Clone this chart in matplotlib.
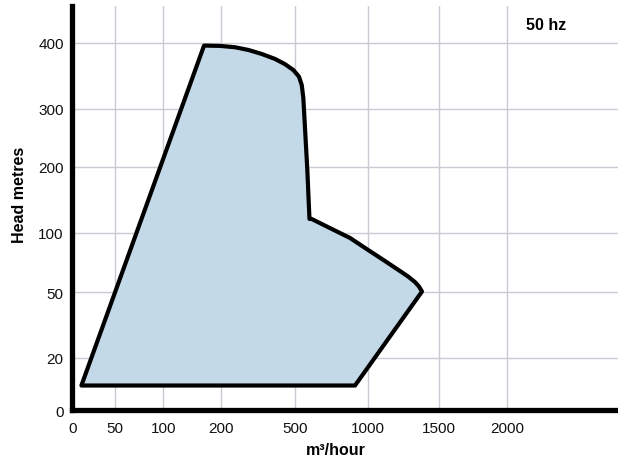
import numpy as np
import matplotlib
matplotlib.use("Agg")
import matplotlib.pyplot as plt

plt.rcParams['font.family'] = ['Liberation Sans', 'DejaVu Sans']

# axis ticks (the chart uses a stretched, non-linear scale)
x_ticks = [0, 50, 100, 200, 500, 1000, 1500, 2000]
y_ticks = [0, 20, 50, 100, 200, 300, 400]

# relative spacing of those ticks on the printed chart
x_spacing = [0, 42, 90.3, 147.7, 222.3, 295.3, 366.3, 434.3]
y_spacing = [0, 52.3, 117.7, 177.3, 243.3, 301, 367]

# operating envelope outline (flow m3/h, head m)
flow = [10, 171, 199, 257, 311, 365, 418, 458, 492, 525, 544, 555,
        582, 597, 612, 758, 875, 989, 1107, 1223, 1280, 1329, 1357, 1378,
        909, 10]
head = [9.4, 396, 395.5, 393.5, 389.4, 383.3, 375.8, 368, 359, 349, 336.4, 316.7,
        196.5, 121, 120.8, 104.8, 95.6, 86.3, 77.1, 67.9, 63.3, 58.6, 54.9, 50.7,
        9.4, 9.4]


def piecewise(src, dst):
    src = np.asarray(src, float)
    dst = np.asarray(dst, float)
    lo_slope = (dst[1] - dst[0]) / (src[1] - src[0])
    hi_slope = (dst[-1] - dst[-2]) / (src[-1] - src[-2])

    def f(v):
        v = np.asarray(v, float)
        flat = np.atleast_1d(v).astype(float)
        out = np.interp(flat, src, dst)
        lo = flat < src[0]
        hi = flat > src[-1]
        out[lo] = dst[0] + (flat[lo] - src[0]) * lo_slope
        out[hi] = dst[-1] + (flat[hi] - src[-1]) * hi_slope
        return out.reshape(v.shape)
    return f


fig = plt.figure(figsize=(6.18, 4.64), dpi=100)
ax = fig.add_axes([0.1165, 0.114, 0.8835, 0.871])

ax.set_xscale('function', functions=(piecewise(x_ticks, x_spacing),
                                     piecewise(x_spacing, x_ticks)))
ax.set_yscale('function', functions=(piecewise(y_ticks, y_spacing),
                                     piecewise(y_spacing, y_ticks)))

ax.fill(flow, head, facecolor='#c3d9e7', edgecolor='black', linewidth=3,
        joinstyle='round', zorder=3)

ax.set_xlim(-1.2, 2814)
ax.set_ylim(0, 456)
ax.set_xticks(x_ticks)
ax.set_yticks(y_ticks)
ax.set_xticklabels([str(t) for t in x_ticks])
ax.set_yticklabels([str(t) for t in y_ticks])
ax.tick_params(length=0, labelsize=11, colors='#111111')
ax.tick_params(axis='x', pad=8)
ax.tick_params(axis='y', pad=6)

ax.grid(True, color='#cacad2', linewidth=1.0, zorder=0)
ax.set_axisbelow(True)

for side in ['top', 'right']:
    ax.spines[side].set_visible(False)
for side in ['left', 'bottom']:
    ax.spines[side].set_linewidth(3.8)
    ax.spines[side].set_color('black')
    ax.spines[side].set_zorder(5)

ax.set_ylabel('Head metres', fontsize=11.5, fontweight='bold')
ax.yaxis.set_label_coords(-0.082, 0.535)
ax.set_xlabel('m³/hour', fontsize=11.5, fontweight='bold')
ax.xaxis.set_label_coords(0.483, -0.078)

fig.text(546 / 618, 1 - 26 / 464, '50 hz', fontsize=11.5, fontweight='bold',
         ha='center', va='center')

fig.savefig('out.png', dpi=100)
